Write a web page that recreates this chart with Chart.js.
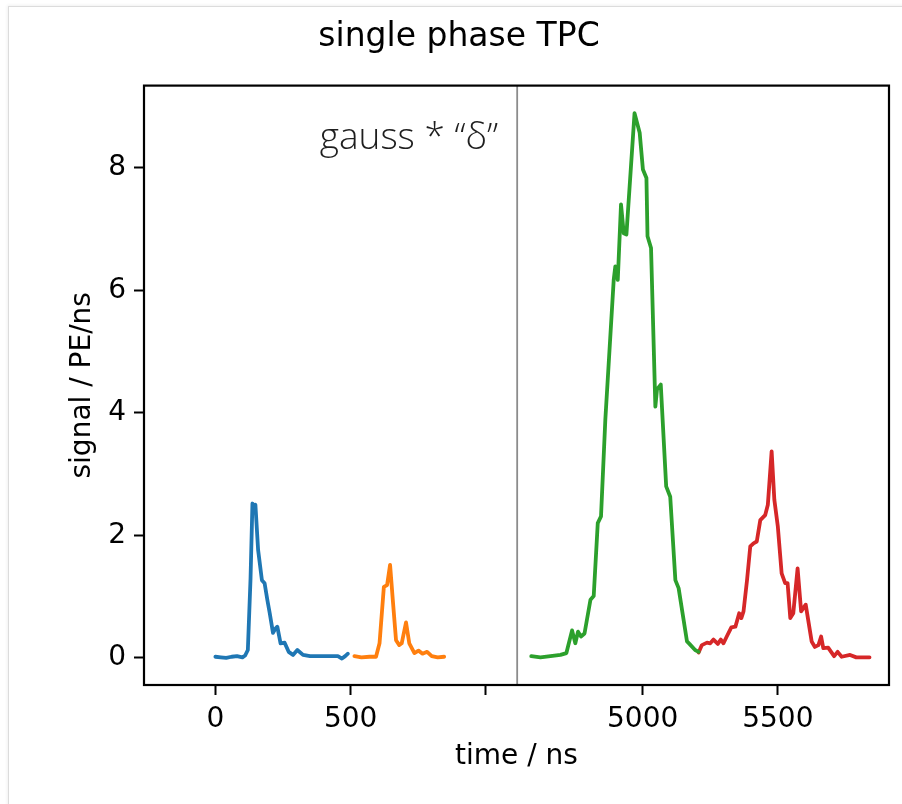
<!DOCTYPE html>
<html>
<head>
<meta charset="utf-8">
<title>single phase TPC</title>
<script src="https://cdn.jsdelivr.net/npm/chart.js@4.4.1/dist/chart.umd.min.js"></script>
<style>
    html, body { margin: 0; padding: 0; background: #ffffff; }
    #wrap { position: relative; width: 902px; height: 804px; overflow: hidden; }
    #edge {
        position: absolute; left: 8px; top: 6px; width: 1000px; height: 1000px;
        border-left: 1px solid #dcdcdc; border-top: 1px solid #dcdcdc;
        box-shadow: -1px -1px 3px rgba(0, 0, 0, 0.06);
    }
    #chart { position: absolute; left: 0; top: 0; }
</style>
</head>
<body>
<div id="wrap">
    <div id="edge"></div>
    <canvas id="chart" width="902" height="804"></canvas>
</div>
<script>
/* ------------------------------------------------------------
   single phase TPC: S1 / S2 pulses on a broken time axis
   ------------------------------------------------------------ */

// time axis is broken: everything after the break is drawn shifted left
const BREAK_SHIFT = 3420;     // ns removed between the two segments
const BREAK_AT = 1116;        // where the gap line sits (left-segment ns)

// tick labels
const xTicksLeft = [0, 500, 1000];
const xTicksRight = [5000, 5500];
const xTickLabels = ['0', '500', '', '5000', '5500'];
const yTicks = [0, 2, 4, 6, 8];

// S1-like pulses (left segment)
const blueTime = [0, 20, 40, 60, 80, 100, 110, 120, 130, 137, 143, 148, 158, 172, 182, 192, 201, 213, 222, 229,
    241, 256, 271, 287, 303, 324, 350, 400, 430, 453, 468, 480, 490];
const blueSignal = [0.02, 0.01, 0.0, 0.02, 0.03, 0.01, 0.04, 0.13, 1.3, 2.52, 2.45, 2.5, 1.76, 1.27, 1.22, 0.95, 0.73, 0.41, 0.48, 0.51,
    0.24, 0.25, 0.10, 0.05, 0.13, 0.05, 0.03, 0.03, 0.03, 0.03, -0.01, 0.03, 0.07];

const orangeTime = [514, 540, 570, 594, 607, 623, 635, 646, 656, 668, 680, 689, 705, 717, 736, 751, 766, 783, 800, 822, 846];
const orangeSignal = [0.03, 0.01, 0.02, 0.02, 0.24, 1.16, 1.19, 1.52, 0.95, 0.29, 0.21, 0.24, 0.58, 0.24, 0.08, 0.12, 0.07, 0.10, 0.03, 0.01, 0.02];

// S2-like pulses (right segment)
const greenTime = [4588, 4622, 4659, 4696, 4718, 4739, 4751, 4761, 4772, 4785, 4807, 4819, 4834, 4846, 4862,
    4893, 4899, 4908, 4920, 4930, 4940, 4970, 4989, 5001, 5014, 5018, 5031,
    5047, 5053, 5067, 5087, 5102, 5121, 5133, 5164, 5173, 5194, 5207];
const greenSignal = [0.03, 0.01, 0.03, 0.05, 0.08, 0.45, 0.24, 0.43, 0.35, 0.40, 0.95, 1.01, 2.20, 2.31, 3.89,
    6.17, 6.39, 6.17, 7.40, 6.93, 6.91, 8.89, 8.57, 7.97, 7.83, 6.88, 6.69,
    4.10, 4.38, 4.46, 2.80, 2.63, 1.27, 1.14, 0.27, 0.23, 0.13, 0.10];

const redTime = [5207, 5219, 5238, 5250, 5262, 5278, 5289, 5299, 5311, 5328, 5343, 5357, 5365, 5373, 5386, 5398,
    5410, 5422, 5435, 5453, 5463, 5477, 5487, 5500, 5514, 5527, 5536, 5546, 5557, 5573, 5586, 5603,
    5625, 5637, 5650, 5660, 5668, 5686, 5708, 5721, 5736, 5767, 5790, 5839];
const redSignal = [0.09, 0.21, 0.25, 0.24, 0.30, 0.23, 0.30, 0.24, 0.35, 0.50, 0.51, 0.73, 0.65, 0.76, 1.27, 1.82,
    1.87, 1.90, 2.25, 2.33, 2.50, 3.37, 2.58, 2.14, 1.38, 1.22, 1.22, 0.65, 0.73, 1.46, 0.76, 0.87,
    0.27, 0.18, 0.21, 0.35, 0.16, 0.17, 0.03, 0.10, 0.02, 0.05, 0.01, 0.01];

const FONT = "'DejaVu Sans', 'Liberation Sans', sans-serif";

// pair up time/value arrays, shifting the right segment past the break
function toPoints(times, values, shift = 0) {
    return times.map((t, i) => ({ x: t - shift, y: values[i] }));
}

function lineSet(label, color, points) {
    return {
        label: label,
        data: points,
        borderColor: color,
        backgroundColor: color,
        borderWidth: 3.8,
        borderJoinStyle: 'round',
        borderCapStyle: 'round',
        pointRadius: 0,
        tension: 0,
        fill: false
    };
}

// frame + break line + in-plot annotation
const framePlugin = {
    id: 'frame',
    beforeDatasetsDraw(chart) {
        const { ctx, chartArea, scales } = chart;
        const bx = scales.x.getPixelForValue(BREAK_AT);
        ctx.save();
        ctx.strokeStyle = '#8c8c8c';
        ctx.lineWidth = 1.8;
        ctx.beginPath();
        ctx.moveTo(bx, chartArea.top);
        ctx.lineTo(bx, chartArea.bottom);
        ctx.stroke();

        ctx.fillStyle = '#1e1e1e';
        ctx.font = "300 37px 'Open Sans', 'Lato', sans-serif";
        ctx.textAlign = 'right';
        ctx.textBaseline = 'alphabetic';
        ctx.fillText('gauss * \u201C\u03B4\u201D', bx - 19, scales.y.getPixelForValue(8.31));
        ctx.restore();
    },
    afterDraw(chart) {
        const { ctx, chartArea } = chart;
        ctx.save();
        ctx.strokeStyle = '#000000';
        ctx.lineWidth = 2.2;
        ctx.strokeRect(chartArea.left, chartArea.top,
            chartArea.right - chartArea.left, chartArea.bottom - chartArea.top);
        ctx.restore();
    }
};

document.addEventListener('DOMContentLoaded', () => {
    const canvas = document.getElementById('chart');

    new Chart(canvas.getContext('2d'), {
        type: 'line',
        data: {
            datasets: [
                lineSet('S1 a', '#1f77b4', toPoints(blueTime, blueSignal)),
                lineSet('S1 b', '#ff7f0e', toPoints(orangeTime, orangeSignal)),
                lineSet('S2 a', '#2ca02c', toPoints(greenTime, greenSignal, BREAK_SHIFT)),
                lineSet('S2 b', '#d62728', toPoints(redTime, redSignal, BREAK_SHIFT))
            ]
        },
        options: {
            responsive: false,
            animation: false,
            devicePixelRatio: 1,
            layout: { padding: { left: 29, right: 13, top: 0, bottom: 0 } },
            plugins: {
                legend: { display: false },
                tooltip: { enabled: false },
                title: {
                    display: true,
                    text: 'single phase TPC',
                    color: '#000000',
                    font: { family: FONT, size: 33, weight: 'normal' },
                    padding: { top: 18, bottom: 28 }
                }
            },
            scales: {
                x: {
                    type: 'linear',
                    min: -264,
                    max: 2491,
                    afterBuildTicks: scale => {
                        scale.ticks = xTicksLeft.map(v => ({ value: v }))
                            .concat(xTicksRight.map(v => ({ value: v - BREAK_SHIFT })));
                    },
                    afterFit: scale => { scale.height = 119; },
                    grid: {
                        drawOnChartArea: false,
                        drawTicks: true,
                        tickLength: 10,
                        tickColor: '#000000',
                        tickWidth: 2
                    },
                    border: { display: false },
                    ticks: {
                        autoSkip: false,
                        maxRotation: 0,
                        padding: 8,
                        color: '#000000',
                        font: { family: FONT, size: 28 },
                        callback: (value, index) => xTickLabels[index]
                    },
                    title: {
                        display: true,
                        text: 'time / ns',
                        color: '#000000',
                        font: { family: FONT, size: 28 },
                        padding: { top: 0, bottom: 30 }
                    }
                },
                y: {
                    type: 'linear',
                    min: -0.441,
                    max: 9.339,
                    afterBuildTicks: scale => {
                        scale.ticks = yTicks.map(v => ({ value: v }));
                    },
                    afterFit: scale => { scale.width = 115; },
                    grid: {
                        drawOnChartArea: false,
                        drawTicks: true,
                        tickLength: 10,
                        tickColor: '#000000',
                        tickWidth: 2
                    },
                    border: { display: false },
                    ticks: {
                        padding: 8,
                        color: '#000000',
                        font: { family: FONT, size: 28 },
                        callback: value => String(value)
                    },
                    title: {
                        display: true,
                        text: 'signal / PE/ns',
                        color: '#000000',
                        font: { family: FONT, size: 28 },
                        padding: { top: 37, bottom: 0 }
                    }
                }
            }
        },
        plugins: [framePlugin]
    });
});
</script>
</body>
</html>
